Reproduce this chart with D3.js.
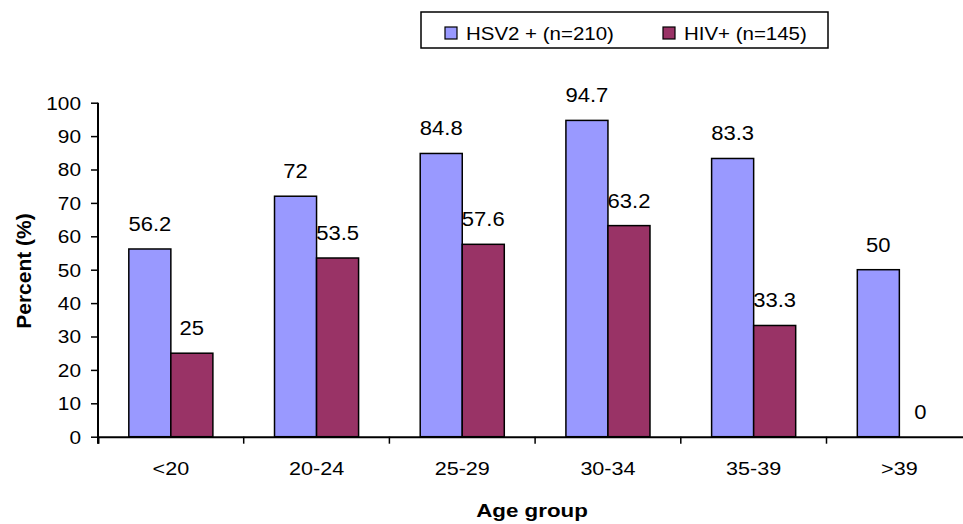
<!DOCTYPE html>
<html>
<head>
<meta charset="utf-8">
<script src="https://cdn.jsdelivr.net/npm/d3@7"></script>
<style>
  body { margin: 0; background: #fff; }
  text { font-family: "Liberation Sans", Arial, sans-serif; fill: #000; }
</style>
</head>
<body>
<div id="root"></div>
<script>
const categories = ['<20', '20-24', '25-29', '30-34', '35-39', '>39'];
const seriesNames = ['HSV2 + (n=210)', 'HIV+ (n=145)'];
const hsv2 = [56.2, 72, 84.8, 94.7, 83.3, 50];
const hiv = [25, 53.5, 57.6, 63.2, 33.3, 0];
const yTicks = [0, 10, 20, 30, 40, 50, 60, 70, 80, 90, 100];
const colors = ['#9999FF', '#993366'];

const root = document.getElementById('root');
const W = 963, H = 524;

// stretch a text horizontally around its anchor point (source text is wide)
const stretch = (sel, k) => sel.each(function () {
    const t = d3.select(this);
    const x = +t.attr('x') || 0, y = +t.attr('y') || 0;
    t.attr('x', 0).attr('y', 0)
     .attr('transform', `translate(${x},${y}) scale(${k},1)`);
});

const data = categories.map((c, i) => ({ cat: c, values: [hsv2[i], hiv[i]] }));

const svg = d3.select(root)
    .append('svg')
    .attr('width', W)
    .attr('height', H);

// scales
const x0 = d3.scaleBand()
    .domain(categories)
    .range([98, 98 + 6 * 145.7])
    .padding(0);
const x1 = d3.scaleBand()
    .domain([0, 1])
    .range([0, x0.bandwidth()])
    .paddingInner(0)
    .paddingOuter(0.733);
const y = d3.scaleLinear()
    .domain([0, 100])
    .range([436.7, 102.7]);

// bars
const groups = svg.selectAll('.grp')
    .data(data)
    .enter()
    .append('g')
    .attr('class', 'grp')
    .attr('transform', d => `translate(${x0(d.cat)},0)`);

groups.selectAll('rect')
    .data(d => d.values)
    .enter()
    .append('rect')
    .attr('x', (d, i) => x1(i))
    .attr('y', d => y(d))
    .attr('width', x1.bandwidth())
    .attr('height', d => y(0) - y(d))
    .attr('fill', (d, i) => colors[i])
    .attr('stroke', '#000')
    .attr('stroke-width', 1.5);

groups.selectAll('.lbl')
    .data(d => d.values)
    .enter()
    .append('text')
    .attr('class', 'lbl')
    .attr('x', (d, i) => x1(i) + x1.bandwidth() / 2)
    .attr('y', d => y(d) - 18)
    .attr('text-anchor', 'middle')
    .attr('font-size', 19.5)
    .text(d => d)
    .call(stretch, 1.13);

// y axis
const yAxis = d3.axisLeft(y)
    .tickValues(yTicks)
    .tickSize(7)
    .tickSizeOuter(0);
const gy = svg.append('g')
    .attr('transform', 'translate(98,0)')
    .call(yAxis);
gy.select('.domain').attr('stroke', '#000').attr('stroke-width', 2)
    .attr('d', `M0,${y(100)}V${y(0) + 7}`);
gy.selectAll('line').attr('stroke-width', 1.5);
gy.selectAll('text')
    .attr('font-size', 17.5)
    .attr('font-family', '"Liberation Sans", Arial, sans-serif')
    .attr('x', -17)
    .attr('y', 6.3)
    .attr('dy', null)
    .call(stretch, 1.19);

// x axis: ticks sit on category boundaries
const xAxis = d3.axisBottom(x0)
    .tickSize(0)
    .tickSizeOuter(7);
const gx = svg.append('g')
    .attr('transform', `translate(0,${y(0)})`)
    .call(xAxis);
gx.select('.domain').attr('stroke-width', 2);
gx.selectAll('text')
    .attr('font-size', 18.6)
    .attr('font-family', '"Liberation Sans", Arial, sans-serif')
    .attr('y', 38.5)
    .attr('dy', null)
    .call(stretch, 1.16);
gx.selectAll('.bound')
    .data(categories.slice(1))
    .enter()
    .append('line')
    .attr('class', 'bound')
    .attr('x1', d => x0(d))
    .attr('x2', d => x0(d))
    .attr('y1', 0)
    .attr('y2', 7)
    .attr('stroke', '#000')
    .attr('stroke-width', 1.5);

// axis titles
svg.append('text')
    .attr('transform', `translate(31,271) rotate(-90)`)
    .attr('text-anchor', 'middle')
    .attr('font-size', 21)
    .attr('font-weight', 'bold')
    .text('Percent (%)');
svg.append('text')
    .attr('x', 532)
    .attr('y', 517)
    .attr('text-anchor', 'middle')
    .attr('font-size', 18.6)
    .attr('font-weight', 'bold')
    .text('Age group')
    .call(stretch, 1.2);

// legend
const legend = svg.append('g').attr('id', 'legend');
legend.append('rect')
    .attr('x', 421)
    .attr('y', 12)
    .attr('width', 407)
    .attr('height', 36)
    .attr('fill', '#fff')
    .attr('stroke', '#000')
    .attr('stroke-width', 1.5);
const legendX = [445, 663];
const items = legend.selectAll('.item')
    .data(seriesNames)
    .enter()
    .append('g')
    .attr('class', 'item')
    .attr('transform', (d, i) => `translate(${legendX[i]},0)`);
items.append('rect')
    .attr('x', 0)
    .attr('y', 27)
    .attr('width', 12)
    .attr('height', 12)
    .attr('fill', (d, i) => colors[i])
    .attr('stroke', '#000')
    .attr('stroke-width', 1.2);
items.append('text')
    .attr('x', 21)
    .attr('y', 39.5)
    .attr('font-size', 18.6)
    .text(d => d)
    .call(stretch, 1.1);
</script>
</body>
</html>
